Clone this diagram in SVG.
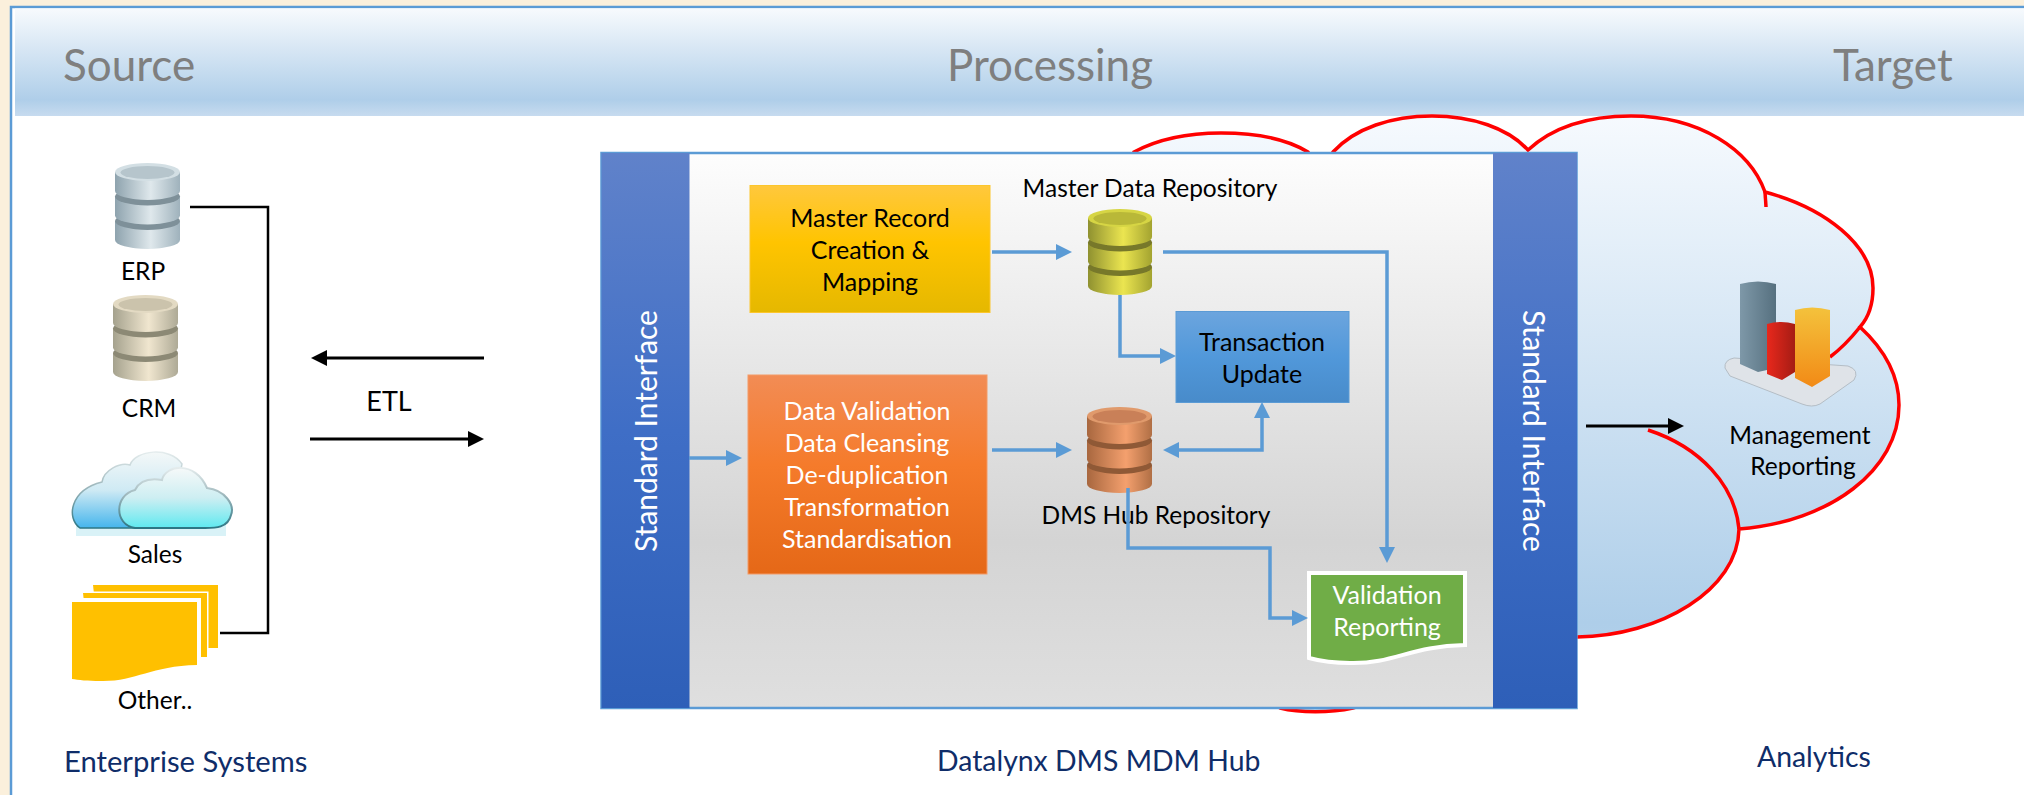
<svg xmlns="http://www.w3.org/2000/svg" width="2024" height="795" viewBox="0 0 2024 795">
<style>
text{font-family:"Lato","Carlito","Noto Sans",sans-serif;}
.h{font-size:44px;fill:#7f7f7f;}
.f{font-size:28.4px;fill:#0f2d69;}
.l{font-size:24.5px;fill:#000;text-anchor:middle;}
.w{font-size:25px;fill:#fff;text-anchor:middle;}
.b{font-size:25px;fill:#000;text-anchor:middle;}
.si{font-size:30px;fill:#fff;text-anchor:middle;}
.bl{fill:none;stroke:#5b9bd5;stroke-width:3.5;}
.k{fill:none;stroke:#000;stroke-width:2.5;}
.ka{fill:none;stroke:#000;stroke-width:3;}
.red{fill:none;stroke:#f00;stroke-width:3.5;}
</style>
<defs>
<linearGradient id="gBand" x1="0" y1="0" x2="0" y2="1"><stop offset="0" stop-color="#f7fafd"/><stop offset=".85" stop-color="#afcee9"/><stop offset="1" stop-color="#c7dbef"/></linearGradient>
<linearGradient id="gCloud" gradientUnits="userSpaceOnUse" x1="0" y1="116" x2="0" y2="712"><stop offset="0" stop-color="#f6fafe"/><stop offset=".85" stop-color="#aecee9"/><stop offset="1" stop-color="#b8d4ec"/></linearGradient>
<linearGradient id="gHub" x1="0" y1="0" x2="0" y2="1"><stop offset="0" stop-color="#fdfdfd"/><stop offset=".7" stop-color="#d4d4d4"/><stop offset="1" stop-color="#dfdfdf"/></linearGradient>
<linearGradient id="gSI" x1="0" y1="0" x2="0" y2="1"><stop offset="0" stop-color="#6082ca"/><stop offset=".5" stop-color="#3f6ec6"/><stop offset="1" stop-color="#2e5fb8"/></linearGradient>
<linearGradient id="gGold" x1="0" y1="0" x2="0" y2="1"><stop offset="0" stop-color="#ffc83d"/><stop offset=".45" stop-color="#ffc400"/><stop offset="1" stop-color="#e5b800"/></linearGradient>
<linearGradient id="gOr" x1="0" y1="0" x2="0" y2="1"><stop offset="0" stop-color="#f28c55"/><stop offset=".45" stop-color="#f57b2b"/><stop offset="1" stop-color="#e56817"/></linearGradient>
<linearGradient id="gTx" x1="0" y1="0" x2="0" y2="1"><stop offset="0" stop-color="#6ca5de"/><stop offset=".5" stop-color="#5198da"/><stop offset="1" stop-color="#488bca"/></linearGradient>
<linearGradient id="dbS" x1="0" y1="0" x2="1" y2="0"><stop offset="0" stop-color="#8ea3ae"/><stop offset=".55" stop-color="#dfe8ec"/><stop offset="1" stop-color="#9fb2bc"/></linearGradient>
<linearGradient id="dbT" x1="0" y1="0" x2="1" y2="0"><stop offset="0" stop-color="#a5a28e"/><stop offset=".55" stop-color="#f0e6cf"/><stop offset="1" stop-color="#aeaa96"/></linearGradient>
<linearGradient id="dbY" x1="0" y1="0" x2="1" y2="0"><stop offset="0" stop-color="#8f9130"/><stop offset=".55" stop-color="#ebe550"/><stop offset="1" stop-color="#a3a330"/></linearGradient>
<linearGradient id="dbC" x1="0" y1="0" x2="1" y2="0"><stop offset="0" stop-color="#a8673f"/><stop offset=".6" stop-color="#f4a06e"/><stop offset="1" stop-color="#b06f45"/></linearGradient>
<linearGradient id="cB" x1="0" y1="0" x2="0" y2="1"><stop offset="0" stop-color="#f4f8f8"/><stop offset=".5" stop-color="#cfeaf4"/><stop offset="1" stop-color="#45b5ec"/></linearGradient>
<linearGradient id="cF" x1="0" y1="0" x2="0" y2="1"><stop offset="0" stop-color="#f6f9f9"/><stop offset=".5" stop-color="#cdeef2"/><stop offset="1" stop-color="#5fe9f0"/></linearGradient>
<linearGradient id="cS" x1="0" y1="0" x2="0" y2="1"><stop offset="0" stop-color="#e4eced"/><stop offset=".45" stop-color="#9fb8bd"/><stop offset="1" stop-color="#2c7684"/></linearGradient>
<linearGradient id="gBar1" x1="0" y1="0" x2="1" y2="0"><stop offset="0" stop-color="#7e98a8"/><stop offset="1" stop-color="#56707f"/></linearGradient>
<linearGradient id="gBar2" x1="0" y1="0" x2="1" y2="0"><stop offset="0" stop-color="#e8281c"/><stop offset="1" stop-color="#a51c14"/></linearGradient>
<linearGradient id="gBar3" x1="0" y1="0" x2="0" y2="1"><stop offset="0" stop-color="#f4c23c"/><stop offset="1" stop-color="#f28a16"/></linearGradient>
<marker id="aB" markerUnits="userSpaceOnUse" markerWidth="18" markerHeight="18" refX="8" refY="8" orient="auto-start-reverse" overflow="visible"><path d="M0,0 L16,8 L0,16 Z" fill="#5b9bd5"/></marker>
<marker id="aK" markerUnits="userSpaceOnUse" markerWidth="18" markerHeight="18" refX="8" refY="8" orient="auto-start-reverse" overflow="visible"><path d="M0,0 L16,8 L0,16 Z" fill="#000"/></marker>
<path id="dbBody" d="M0,9 V28 A32.5,9 0 0 0 65,28 V9 Z"/>
<ellipse id="dbTop" cx="32.5" cy="9" rx="32.5" ry="9"/>
<ellipse id="dbIn" cx="32.5" cy="9.5" rx="27" ry="6.5"/>
</defs>

<rect width="2024" height="795" fill="#fbf0dc"/>
<rect x="11" y="7" width="2013" height="788" fill="#fff"/>
<path d="M11,795 V7 H2024" fill="none" stroke="#5b9bd5" stroke-width="2.5"/>
<rect x="15" y="8.5" width="2009" height="107.5" fill="url(#gBand)"/>

<g id="header-source"><text class="h" x="63" y="81">Source</text></g>
<g id="header-processing"><text class="h" x="947" y="81">Processing</text></g>
<g id="header-target"><text class="h" x="1833" y="81">Target</text></g>

<g id="cloud">
<path d="M1134,152 C1160,138 1190,133 1221,133 C1252,133 1285,138 1308,152 L1320,170 L1333,152 C1355,128 1392,116 1432,116 C1472,116 1508,128 1528,150 C1555,125 1590,116 1631,116 C1700,116 1750,150 1765,192 C1825,208 1873,245 1873,288 C1873,305 1868,318 1860,327 C1885,350 1899,375 1899,405 C1899,470 1830,522 1739,529 C1738,590 1660,636 1577,637 L1353,708 C1330,713 1300,713 1280,708 L1200,650 L1134,650 Z" fill="url(#gCloud)" stroke="#f00" stroke-width="3.5"/>
<path class="red" d="M1765,192 L1766,207"/>
<path class="red" d="M1860,327 C1852,337 1842,348 1830,357"/>
<path class="red" d="M1648,430 C1700,447 1735,485 1739,529"/>
</g>

<g id="erp">
<g transform="translate(115,163)"><use href="#dbBody" y="49" fill="url(#dbS)"/><use href="#dbTop" y="49" fill="#7e9099"/><use href="#dbBody" y="24.5" fill="url(#dbS)"/><use href="#dbTop" y="24.5" fill="#7e9099"/><use href="#dbBody" fill="url(#dbS)"/><use href="#dbTop" fill="#d3dfe4"/><use href="#dbIn" fill="#b6c5cc"/></g>
<text class="l" x="143" y="280">ERP</text>
</g>
<g id="crm">
<g transform="translate(113,295)"><use href="#dbBody" y="49" fill="url(#dbT)"/><use href="#dbTop" y="49" fill="#8c8975"/><use href="#dbBody" y="24.5" fill="url(#dbT)"/><use href="#dbTop" y="24.5" fill="#8c8975"/><use href="#dbBody" fill="url(#dbT)"/><use href="#dbTop" fill="#e3dac3"/><use href="#dbIn" fill="#cbc3ac"/></g>
<text class="l" x="149" y="417">CRM</text>
</g>
<g id="sales">
<rect x="76" y="524" width="150" height="12" fill="#d9f2f7"/>
<path d="M80,528 C66,518 70,490 102,482 C104,470 120,462 130,465 C135,450 170,446 182,464 L170,528 Z" fill="url(#cB)" stroke="url(#cS)" stroke-width="1.5"/>
<path d="M135,528 C114,525 114,495 135,490 C140,480 150,478 162,480 C165,465 195,460 207,488 C225,490 235,505 231,515 C228,528 215,528 205,528 Z" fill="url(#cF)" stroke="url(#cS)" stroke-width="2"/>
<text class="l" x="155" y="563">Sales</text>
</g>
<g id="other">
<path d="M93,585 H218 V648 H100 Z" fill="#ffc000"/>
<path d="M83,593 H207 V657 H90 Z" fill="#ffc000" stroke="#fff" stroke-width="3" paint-order="stroke"/>
<path d="M72,602 H197 V665 C150,666 135,682 100,681 C88,681 78,680 72,679 Z" fill="#ffc000" stroke="#fff" stroke-width="8" paint-order="stroke"/>
<text class="l" x="155" y="709">Other..</text>
</g>
<g id="enterprise-label"><text class="f" style="font-size:29.2px" x="64" y="772">Enterprise Systems</text></g>

<g id="etl"><text class="l" style="font-size:27px" x="389" y="411">ETL</text></g>

<g id="hub">
<rect x="601.5" y="153" width="975" height="555" fill="url(#gHub)" stroke="#5b9bd5" stroke-width="2.5"/>
</g>
<g id="si-left">
<rect x="601.5" y="153" width="88" height="555" fill="url(#gSI)"/>
<text class="si" transform="translate(657,431) rotate(-90)">Standard Interface</text>
</g>
<g id="si-right">
<rect x="1493" y="153" width="84" height="555" fill="url(#gSI)"/>
<text class="si" transform="translate(1523,431) rotate(90)">Standard Interface</text>
</g>

<g id="master-record">
<rect x="750" y="185.5" width="240" height="127" fill="url(#gGold)" stroke="#fcc62c"/>
<text class="b" x="870" y="227">Master Record</text>
<text class="b" x="870" y="259">Creation &amp;</text>
<text class="b" x="870" y="291">Mapping</text>
</g>
<g id="data-validation">
<rect x="748" y="375" width="239" height="199" fill="url(#gOr)" stroke="#f39a66"/>
<text class="w" x="867" y="419.500">Data Validation</text>
<text class="w" x="867" y="451.500">Data Cleansing</text>
<text class="w" x="867" y="483.500">De-duplication</text>
<text class="w" x="867" y="515.500">Transformation</text>
<text class="w" x="867" y="548">Standardisation</text>
</g>
<g id="master-repo">
<text class="l" x="1150" y="197">Master Data Repository</text>
<g transform="translate(1088,209) scale(.985,1)"><use href="#dbBody" y="49" fill="url(#dbY)"/><use href="#dbTop" y="49" fill="#77782a"/><use href="#dbBody" y="24.5" fill="url(#dbY)"/><use href="#dbTop" y="24.5" fill="#77782a"/><use href="#dbBody" fill="url(#dbY)"/><use href="#dbTop" fill="#d6d544"/><use href="#dbIn" fill="#b9b838"/></g>
</g>
<g id="transaction">
<rect x="1176" y="311.5" width="173" height="91" fill="url(#gTx)" stroke="#5b9bd5"/>
<text class="b" x="1262" y="351">Transaction</text>
<text class="b" x="1262" y="383">Update</text>
</g>
<g id="dms-repo">
<g transform="translate(1087,407)"><use href="#dbBody" y="49" fill="url(#dbC)"/><use href="#dbTop" y="49" fill="#8f5936"/><use href="#dbBody" y="24.5" fill="url(#dbC)"/><use href="#dbTop" y="24.5" fill="#8f5936"/><use href="#dbBody" fill="url(#dbC)"/><use href="#dbTop" fill="#e09a6c"/><use href="#dbIn" fill="#c98058"/></g>
<text class="l" x="1156" y="524">DMS Hub Repository</text>
</g>
<g id="validation-reporting">
<path d="M1309,573 H1465 V645 C1410,646 1395,664 1350,663 C1335,663 1320,661 1309,658 Z" fill="#70ad47" stroke="#fff" stroke-width="4"/>
<text class="w" x="1387" y="604">Validation</text>
<text class="w" x="1387" y="636">Reporting</text>
</g>
<g id="management-reporting">
<path d="M1725,368 Q1724,360 1734,358 L1848,366 Q1860,370 1854,380 L1820,404 Q1812,408 1802,404 L1730,376 Z" fill="#dfe3e8" stroke="#b4bdc5" stroke-width="1"/>
<path d="M1740,284 Q1758,279 1776,284 V368 L1758,372 L1740,364 Z" fill="url(#gBar1)"/>
<path d="M1767,324 Q1781,320 1795,324 V372 L1782,380 L1767,374 Z" fill="url(#gBar2)"/>
<path d="M1795,310 Q1812,305 1830,310 V376 L1812,387 L1795,378 Z" fill="url(#gBar3)"/>
<text class="l" x="1800" y="444">Management</text>
<text class="l" x="1803" y="475">Reporting</text>
</g>
<g id="hub-label"><text class="f" x="937" y="771">Datalynx DMS MDM Hub</text></g>
<g id="analytics-label"><text class="f" x="1757" y="767">Analytics</text></g>

<g id="connectors">
<path class="k" d="M190,207 H268 V633 H220"/>
<path class="ka" d="M484,358 H319" marker-end="url(#aK)"/>
<path class="ka" d="M310,439 H476" marker-end="url(#aK)"/>
<path class="ka" d="M1586,426 H1676" marker-end="url(#aK)"/>
<path class="bl" d="M992,252 H1064" marker-end="url(#aB)"/>
<path class="bl" d="M1163,252 H1387 V555" marker-end="url(#aB)"/>
<path class="bl" d="M1120,295 V356 H1168" marker-end="url(#aB)"/>
<path class="bl" d="M689,458 H734" marker-end="url(#aB)"/>
<path class="bl" d="M992,450 H1064" marker-end="url(#aB)"/>
<path class="bl" d="M1171,450 H1262 V410" marker-start="url(#aB)" marker-end="url(#aB)"/>
<path class="bl" d="M1128,488 V548 H1270 V618 H1300" marker-end="url(#aB)"/>
</g>
</svg>
